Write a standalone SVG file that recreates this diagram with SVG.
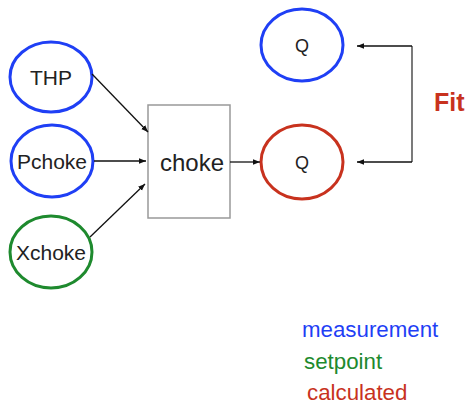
<svg xmlns="http://www.w3.org/2000/svg" width="467" height="405" viewBox="0 0 467 405">
<defs>
<marker id="ah" viewBox="0 0 10 10" refX="10" refY="5" markerWidth="7" markerHeight="7" orient="auto" markerUnits="userSpaceOnUse">
<path d="M0,1 L10,5 L0,9 z" fill="#111"/>
</marker>
<style>
text{font-family:"Liberation Sans",Arial,sans-serif;fill:#222;text-anchor:middle}
.node{fill:#fff;stroke-width:3}
.blue{stroke:#1f3ff5}
.green{stroke:#1e8a2e}
.red{stroke:#c8321e}
.conn{stroke:#111;stroke-width:1.3;fill:none;marker-end:url(#ah)}
.leg{text-anchor:start;font-size:22.3px}
</style>
</defs>
<rect width="467" height="405" fill="#fff"/>
<g id="THP"><ellipse class="node blue" cx="51" cy="77" rx="41" ry="35"/><text x="51" y="85" font-size="21">THP</text></g>
<g id="Pchoke"><ellipse class="node blue" cx="52" cy="161" rx="41" ry="36"/><text x="52" y="169" font-size="21">Pchoke</text></g>
<g id="Xchoke"><ellipse class="node green" cx="51" cy="252" rx="41" ry="36"/><text x="51" y="260" font-size="21">Xchoke</text></g>
<g id="choke"><rect x="148" y="105" width="82" height="113" fill="#fff" stroke="#999" stroke-width="1.5"/><text x="192" y="171" font-size="24">choke</text></g>
<g id="Qmeas"><ellipse class="node blue" cx="302" cy="45" rx="41" ry="36"/><text x="302" y="52" font-size="18">Q</text></g>
<g id="Qcalc"><ellipse class="node red" cx="302" cy="162" rx="41" ry="37"/><text x="302" y="169" font-size="18">Q</text></g>
<g id="connectors">
<line class="conn" x1="92" y1="74" x2="148" y2="132"/>
<line class="conn" x1="94" y1="161" x2="146" y2="161"/>
<line class="conn" x1="90" y1="237" x2="145" y2="184"/>
<line class="conn" x1="230" y1="162" x2="260" y2="162"/>
<polyline points="412,162 412,46" fill="none" stroke="#333" stroke-width="1.3"/>
<line class="conn" x1="412" y1="46" x2="357" y2="46"/>
<line class="conn" x1="412" y1="162" x2="357" y2="162"/>
</g>
<g id="Fit"><text x="434" y="111" font-size="25" font-weight="bold" style="fill:#c8321e;text-anchor:start">Fit</text></g>
<g id="legend">
<text class="leg" x="302" y="337" style="fill:#1f3ff5">measurement</text>
<text class="leg" x="304" y="369" style="fill:#1e8a2e">setpoint</text>
<text class="leg" x="307" y="400" style="fill:#c8321e">calculated</text>
</g>
</svg>
